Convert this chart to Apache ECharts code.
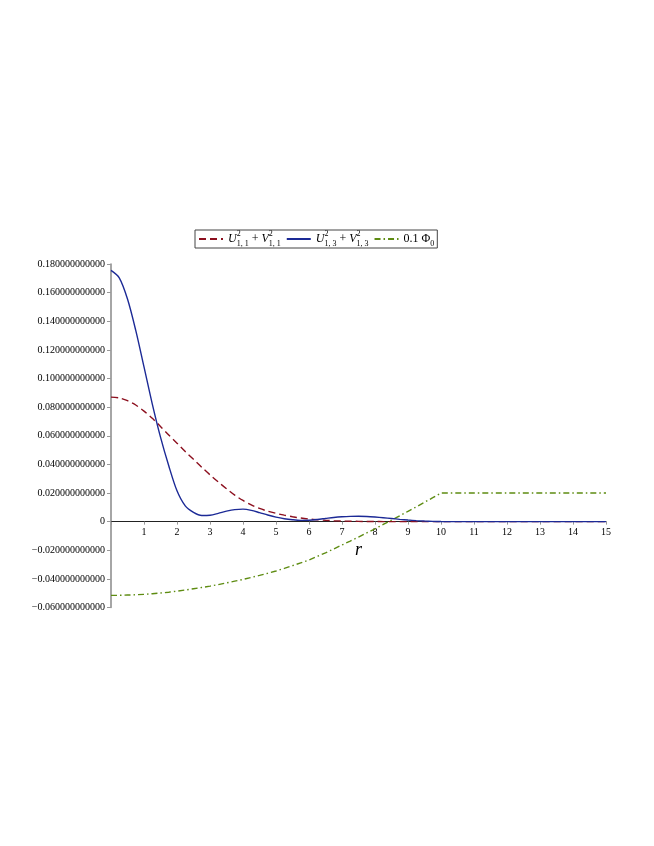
<!DOCTYPE html>
<html>
<head>
<meta charset="utf-8">
<script src="https://cdn.jsdelivr.net/npm/echarts@6/dist/echarts.min.js"></script>
<style>
  html, body { margin: 0; padding: 0; background: #fff; }
  #myChart { width: 654px; height: 846px; }
</style>
</head>
<body>
<div id="myChart"></div>
<script>
// r 取值
const rValues = [0, 0.25, 0.5, 0.75, 1, 1.25, 1.5, 1.75, 2, 2.25, 2.5, 2.75, 3, 3.25, 3.5, 3.75,
  4, 4.25, 4.5, 4.75, 5, 5.25, 5.5, 5.75, 6, 6.25, 6.5, 6.75, 7, 7.25, 7.5, 7.75,
  8, 8.25, 8.5, 8.75, 9, 9.25, 9.5, 9.75, 10, 11, 12, 13, 14, 15];
// U11^2 + V11^2
const u11Values = [0.0870, 0.0864, 0.0845, 0.0815, 0.0772, 0.0722, 0.0665, 0.0605, 0.0548, 0.0490, 0.0435, 0.0380, 0.0327, 0.0277, 0.0230, 0.0185,
  0.0148, 0.0117, 0.0092, 0.0073, 0.0058, 0.0045, 0.0034, 0.0025, 0.0018, 0.0013, 0.0009, 0.0006, 0.0004, 0.0003, 0.0002, 0.0001,
  0.0001, 0, 0, 0, 0, 0, 0, 0, 0, 0, 0, 0, 0, 0];
// U13^2 + V13^2
const u13Values = [0.1755, 0.1703, 0.1555, 0.1336, 0.1081, 0.0823, 0.0590, 0.0390, 0.0215, 0.0110, 0.0065, 0.0043, 0.0045, 0.0058, 0.0073, 0.0084,
  0.0087, 0.0079, 0.0063, 0.0046, 0.0031, 0.0020, 0.0013, 0.0009, 0.0010, 0.0015, 0.0022, 0.0029, 0.0034, 0.0037, 0.0038, 0.0036,
  0.0032, 0.0027, 0.0022, 0.0016, 0.0011, 0.0007, 0.0004, 0.0002, 0.0001, 0, 0, 0, 0, 0];
// 0.1 Phi0
const phiValues = [-0.0515, -0.0515, -0.0513, -0.0511, -0.0508, -0.0504, -0.0499, -0.0493, -0.0486, -0.0478, -0.0469, -0.0460, -0.0451, -0.0440, -0.0428, -0.0416,
  -0.0404, -0.0390, -0.0376, -0.0361, -0.0345, -0.0327, -0.0308, -0.0288, -0.0268, -0.0243, -0.0218, -0.0191, -0.0163, -0.0136, -0.0108, -0.0079,
  -0.0050, -0.0020, 0.0010, 0.0041, 0.0072, 0.0103, 0.0135, 0.0167, 0.0200, 0.0200, 0.0200, 0.0200, 0.0200, 0.0200];
const xTicks = [1, 2, 3, 4, 5, 6, 7, 8, 9, 10, 11, 12, 13, 14, 15];
const yMin = -0.06;
const yMax = 0.18;

const seriesNames = ['U11', 'U13', 'Phi0'];
const legendLabels = {
  U11: '{v|U}{sp|2}{sb|1, 1}{t| + }{v|V}{sp|2}{sb|1, 1}',
  U13: '{v|U}{sp|2}{sb|1, 3}{t| + }{v|V}{sp|2}{sb|1, 3}',
  Phi0: '{t|0.1 Φ}{sb|0}'
};

const serif = '"Liberation Serif", "DejaVu Serif", serif';

// 网格高度, 用于把x轴移到 y=0 处
const gridTop = 264;
const gridBottom = 238.5;
const gridHeight = 846 - gridTop - gridBottom;
const xAxisOffset = -gridHeight * (0 - yMin) / (yMax - yMin);

function pairs (ys) {
  return rValues.map((r, i) => [r, ys[i]]);
}

let myChart = echarts.init(document.getElementById('myChart'));
let option = {
  animation: false,
  backgroundColor: '#fff',
  legend: {
    left: 195,
    top: 230,
    itemWidth: 24,
    itemHeight: 10,
    itemGap: 5,
    padding: [0, 3, 0, 3],
    borderColor: '#444',
    borderWidth: 1,
    data: seriesNames.map((n) => ({ name: n, itemStyle: { opacity: 0 } })),
    formatter: (name) => legendLabels[name],
    textStyle: {
      color: '#000',
      rich: {
        t: { fontFamily: serif, fontSize: 12, lineHeight: 18, color: '#000' },
        v: { fontFamily: serif, fontStyle: 'italic', fontSize: 12, lineHeight: 18, color: '#000' },
        sp: { fontFamily: serif, fontSize: 8, lineHeight: 9, verticalAlign: 'top', width: 0, color: '#000' },
        sb: { fontFamily: serif, fontSize: 8, lineHeight: 9, verticalAlign: 'bottom', color: '#000' }
      }
    }
  },
  grid: {
    left: 111,
    right: 48,
    top: gridTop,
    bottom: gridBottom,
    containLabel: false
  },
  xAxis: {
    type: 'value',
    min: 0,
    max: 15,
    interval: 1,
    position: 'bottom',
    offset: xAxisOffset,
    name: 'r',
    nameLocation: 'middle',
    nameGap: 20,
    nameTextStyle: { fontFamily: serif, fontStyle: 'italic', fontSize: 18, color: '#000' },
    axisLine: { onZero: false, lineStyle: { color: '#222', width: 1.2 } },
    axisTick: { show: true, length: 3, lineStyle: { color: '#999' } },
    axisLabel: {
      fontFamily: serif,
      fontSize: 10,
      color: '#000',
      margin: 6,
      formatter: (v) => (xTicks.indexOf(v) >= 0 ? String(v) : '')
    },
    splitLine: { show: false }
  },
  yAxis: {
    type: 'value',
    min: yMin,
    max: yMax,
    interval: 0.02,
    axisLine: { show: true, onZero: false, lineStyle: { color: '#888', width: 1.5 } },
    axisTick: { show: true, length: 4, lineStyle: { color: '#999' } },
    axisLabel: {
      fontFamily: serif,
      fontSize: 10,
      color: '#000',
      margin: 6,
      formatter: (v) => {
        if (Math.abs(v) < 1e-9) return '0';
        return (v < 0 ? '\u2212' : '') + Math.abs(v).toFixed(12);
      }
    },
    splitLine: { show: false }
  },
  series: [
    {
      name: 'U11',
      type: 'line',
      data: pairs(u11Values),
      smooth: 0.3,
      symbol: 'none',
      color: '#8c0f1e',
      lineStyle: { color: '#8c0f1e', width: 1.4, type: [7, 4] },
      z: 3
    },
    {
      name: 'U13',
      type: 'line',
      data: pairs(u13Values),
      smooth: 0.3,
      symbol: 'none',
      color: '#1c2a96',
      lineStyle: { color: '#1c2a96', width: 1.4 },
      z: 4
    },
    {
      name: 'Phi0',
      type: 'line',
      data: pairs(phiValues),
      smooth: false,
      symbol: 'none',
      color: '#5e8c12',
      lineStyle: { color: '#5e8c12', width: 1.4, type: [6, 3, 1.5, 3] },
      z: 2
    }
  ]
};
myChart.setOption(option);
</script>
</body>
</html>
